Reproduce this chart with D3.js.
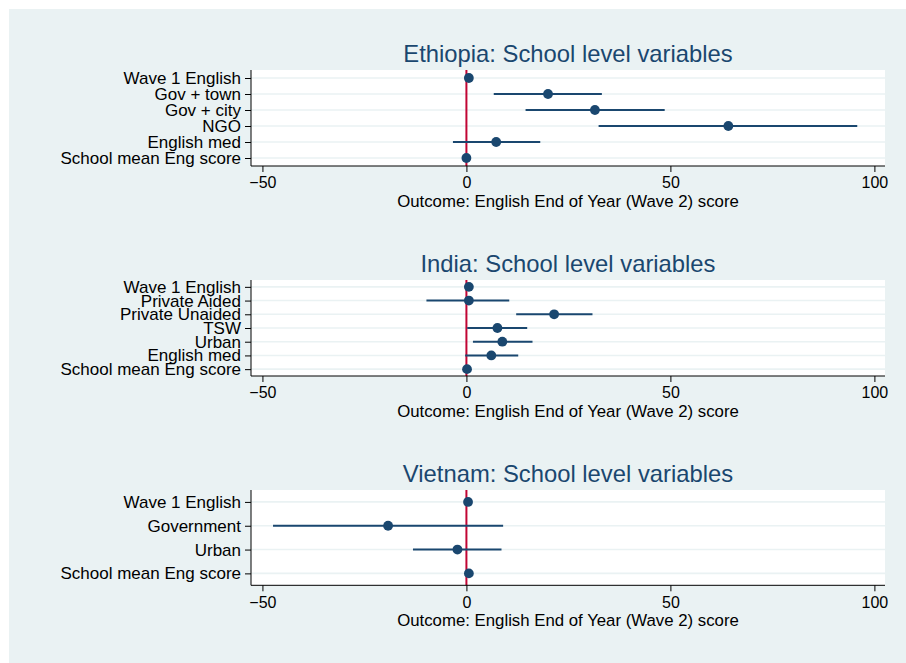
<!DOCTYPE html>
<html>
<head>
<meta charset="utf-8">
<script src="https://cdn.jsdelivr.net/npm/d3@7"></script>
<style>
body { margin: 0; background: #fff; }
text { font-family: "Liberation Sans", Arial, sans-serif; }
</style>
</head>
<body>
<div id="chart"></div>
<script>
// Ethiopia
var ethLabels = ["Wave 1 English", "Gov + town", "Gov + city", "NGO", "English med", "School mean Eng score"];
var ethCoef = [0.6, 20.0, 31.5, 64.2, 7.3, 0.0];
var ethLow = [0.3, 6.7, 14.5, 32.4, -3.3, -0.2];
var ethHigh = [0.9, 33.2, 48.6, 95.8, 18.1, 0.2];

// India
var indLabels = ["Wave 1 English", "Private Aided", "Private Unaided", "TSW", "Urban", "English med", "School mean Eng score"];
var indCoef = [0.6, 0.6, 21.5, 7.6, 8.8, 6.1, 0.15];
var indLow = [0.3, -9.8, 12.2, 0.2, 1.6, -0.3, -0.1];
var indHigh = [0.9, 10.5, 30.9, 14.9, 16.2, 12.7, 0.4];

// Vietnam
var vieLabels = ["Wave 1 English", "Government", "Urban", "School mean Eng score"];
var vieCoef = [0.4, -19.2, -2.2, 0.6];
var vieLow = [0.1, -47.4, -13.1, 0.3];
var vieHigh = [0.7, 9.0, 8.6, 0.9];

var xTicks = [-50, 0, 50, 100];
var xTitle = "Outcome: English End of Year (Wave 2) score";

var width = 906, height = 663;
var left = 251, right = 885;

var navy = "#1A476F", red = "#C10534", bg = "#EAF2F3";

var svg = d3.select("#chart").append("svg")
  .attr("width", width)
  .attr("height", height);

svg.append("rect")
  .attr("x", 9).attr("y", 9)
  .attr("width", width - 9).attr("height", height - 9)
  .attr("fill", bg);

var x = d3.scaleLinear()
  .domain([-52.8, 102.6])
  .range([left, right]);

function panel(title, labels, coef, low, high, top, bottom) {
  var rows = labels.map(function (d, i) {
    return {label: d, b: coef[i], lo: low[i], hi: high[i]};
  });

  var y = d3.scalePoint()
    .domain(labels)
    .range([top, bottom])
    .padding(0.5);

  var g = svg.append("g");

  // plot region
  g.append("rect")
    .attr("x", left).attr("y", top)
    .attr("width", right - left).attr("height", bottom - top)
    .attr("fill", "#fff");

  // grid lines
  g.selectAll(".grid")
    .data(labels)
    .enter().append("line")
    .attr("x1", left).attr("x2", right)
    .attr("y1", function (d) { return y(d); })
    .attr("y2", function (d) { return y(d); })
    .attr("stroke", bg)
    .attr("stroke-width", 1.6);

  // zero line
  g.append("line")
    .attr("x1", x(0)).attr("x2", x(0))
    .attr("y1", top).attr("y2", bottom)
    .attr("stroke", red)
    .attr("stroke-width", 2);

  // confidence intervals
  g.selectAll(".ci")
    .data(rows)
    .enter().append("line")
    .attr("x1", function (d) { return x(d.lo); })
    .attr("x2", function (d) { return x(d.hi); })
    .attr("y1", function (d) { return y(d.label); })
    .attr("y2", function (d) { return y(d.label); })
    .attr("stroke", navy)
    .attr("stroke-width", 2);

  g.selectAll(".dot")
    .data(rows)
    .enter().append("circle")
    .attr("cx", function (d) { return x(d.b); })
    .attr("cy", function (d) { return y(d.label); })
    .attr("r", 4.9)
    .attr("fill", navy);

  // axes
  var yAxis = g.append("g")
    .attr("transform", "translate(" + left + ",0)")
    .call(d3.axisLeft(y).tickSize(6).tickPadding(4));
  yAxis.select(".domain").attr("d", "M0," + top + "V" + bottom);
  yAxis.selectAll("text")
    .attr("font-size", 17)
    .attr("font-family", "Liberation Sans, Arial, sans-serif")
    .attr("fill", "#000");

  var xAxis = g.append("g")
    .attr("transform", "translate(0," + bottom + ")")
    .call(d3.axisBottom(x).tickValues(xTicks).tickSize(6).tickPadding(5));
  xAxis.select(".domain").attr("d", "M" + left + ",0H" + right);
  xAxis.selectAll("text")
    .attr("font-size", 16)
    .attr("font-family", "Liberation Sans, Arial, sans-serif")
    .attr("fill", "#000");

  g.append("text")
    .attr("x", (left + right) / 2)
    .attr("y", bottom + 40.7)
    .attr("text-anchor", "middle")
    .attr("font-size", 16.8)
    .text(xTitle);

  g.append("text")
    .attr("x", (left + right) / 2)
    .attr("y", top - 8.3)
    .attr("text-anchor", "middle")
    .attr("font-size", 23.8)
    .attr("fill", navy)
    .text(title);
}

panel("Ethiopia: School level variables", ethLabels, ethCoef, ethLow, ethHigh, 70, 166);
panel("India: School level variables", indLabels, indCoef, indLow, indHigh, 280, 376);
panel("Vietnam: School level variables", vieLabels, vieCoef, vieLow, vieHigh, 490, 585.3);
</script>
</body>
</html>
